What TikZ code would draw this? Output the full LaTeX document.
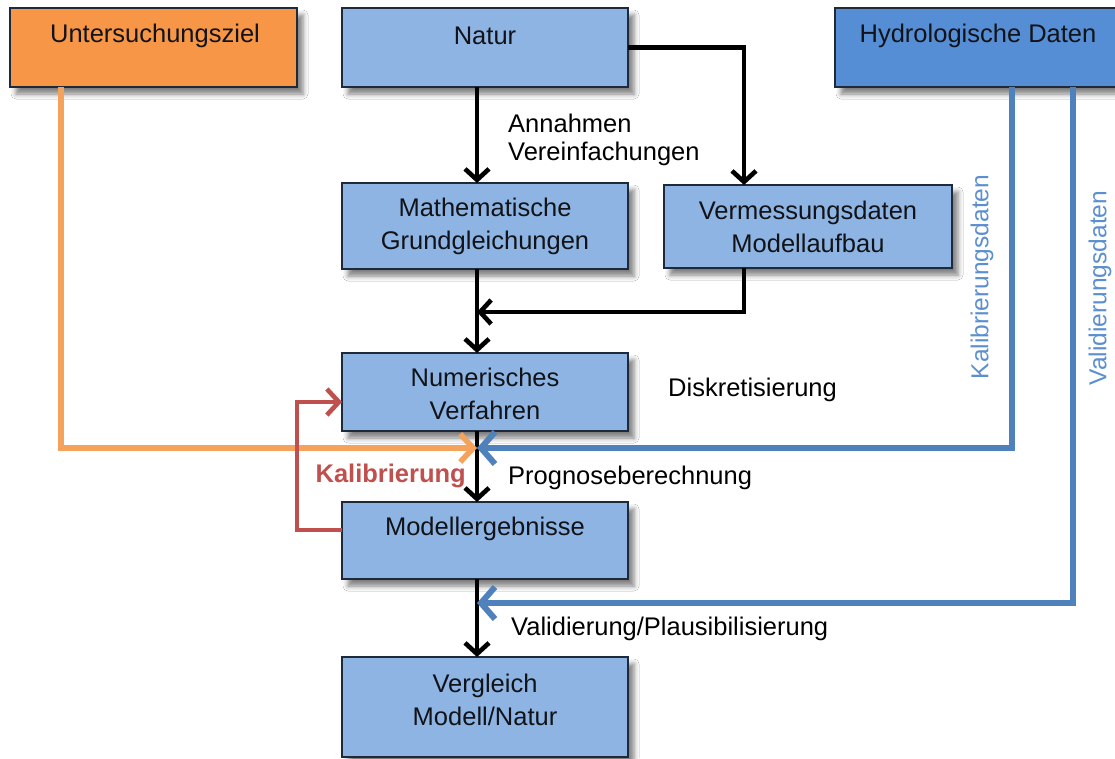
\documentclass[tikz,border=0pt]{standalone}
\usepackage{fontspec}
\setmainfont{Liberation Sans}
\usetikzlibrary{arrows.meta,shadows.blur}
\definecolor{boxblue}{HTML}{8DB4E2}
\definecolor{hydroblue}{HTML}{558ED5}
\definecolor{boxorange}{HTML}{F79646}
\definecolor{lineorange}{HTML}{F5A25C}
\definecolor{lineblue}{HTML}{4F81BD}
\definecolor{textblue}{HTML}{5B8FD0}
\definecolor{linered}{HTML}{C0504D}
\definecolor{border}{HTML}{1E2A3A}
\definecolor{txt}{HTML}{111318}
\begin{document}
\begin{tikzpicture}[x=1pt,y=-1pt,
  box/.style={draw=border,line width=1.5pt,inner sep=0pt,outer sep=0pt,
    blur shadow={shadow xshift=6pt,shadow yshift=-7pt,shadow blur radius=5pt,shadow opacity=50}},
  bluebox/.style={box,fill=boxblue},
  lbl/.style={font=\fontsize{25.5}{33}\selectfont,text=txt,align=center,inner sep=0pt},
  note/.style={font=\fontsize{25.5}{28}\selectfont,text=black,align=left,inner sep=0pt},
  blk/.style={draw=black,line width=4.6pt,-{Straight Barb[length=11pt,width=24pt]}},
  orangearrow/.style={draw=lineorange,line width=5.5pt,-{Straight Barb[length=13pt,width=28pt]}},
  bluearrow/.style={draw=lineblue,line width=6pt,-{Straight Barb[length=14pt,width=32pt]}},
  redarrow/.style={draw=linered,line width=4.6pt,-{Straight Barb[length=12pt,width=26pt]}}]
\useasboundingbox (0,0) rectangle (1115,758);
\fill[white] (0,0) rectangle (1115,758);

% boxes
\node[box,fill=boxorange,minimum width=287pt,minimum height=79pt] (ziel) at (153.5,47.5) {};
\node[bluebox,minimum width=286pt,minimum height=79pt] (natur) at (485,47.5) {};
\node[box,fill=hydroblue,minimum width=295pt,minimum height=79pt] (hydro) at (982.5,47.5) {};
\node[bluebox,minimum width=286pt,minimum height=86pt] (math) at (485,226) {};
\node[bluebox,minimum width=288pt,minimum height=83pt] (verm) at (808,226.5) {};
\node[bluebox,minimum width=286pt,minimum height=78pt] (num) at (485,392) {};
\node[bluebox,minimum width=286pt,minimum height=77pt] (mod) at (485,540.5) {};
\node[bluebox,minimum width=286pt,minimum height=100pt] (verg) at (485,707) {};

% box texts
\node[lbl] (zielT) at (155,36) {Untersuchungsziel};
\node[lbl] (naturT) at (485,36) {Natur};
\node[lbl] (hydroT) at (978,36) {Hydrologische Daten};
\node[lbl] (mathT) at (485,226) {Mathematische\\Grundgleichungen};
\node[lbl] (vermT) at (808,227) {Vermessungsdaten\\Modellaufbau};
\node[lbl] (numT) at (485,394) {Numerisches\\Verfahren};
\node[lbl] (modT) at (485,529) {Modellergebnisse};
\node[lbl] (vergT) at (485,700) {Vergleich\\Modell/Natur};

% helper coordinates
\coordinate (cx) at (477,0);
\coordinate (vx) at (744,0);
\coordinate (j1) at (477,312);
\coordinate (j2) at (477,448);
\coordinate (j3) at (477,603);
\coordinate (ox) at (61,0);
\coordinate (kx) at (1012,0);
\coordinate (vdx) at (1073,0);
\coordinate (rl) at (297,466);
\coordinate (ry1) at (0,530);
\coordinate (ry2) at (0,402);

% black connectors
\draw[blk] (natur.south -| cx) -- (math.north -| cx);
\draw[blk] (natur.east) -| (verm.north -| vx);
\draw[blk] (math.south -| cx) -- (num.north -| cx);
\draw[blk] (verm.south -| vx) |- (j1);
\draw[blk] (num.south -| cx) -- (mod.north -| cx);
\draw[blk] (mod.south -| cx) -- (verg.north -| cx);

% coloured connectors
\draw[orangearrow] (ziel.south -| ox) |- (j2);
\draw[bluearrow] (hydro.south -| kx) |- (j2);
\draw[bluearrow] (hydro.south -| vdx) |- (j3);
\draw[redarrow] (mod.west |- ry1) -| (rl) |- (num.west |- ry2);

% annotations
\node[note,anchor=west] (annT) at (508,140) {Annahmen\\Vereinfachungen};
\node[note,anchor=west] (diskT) at (668,390) {Diskretisierung};
\node[note,anchor=west] (progT) at (508,478) {Prognoseberechnung};
\node[note,anchor=east,text=linered,font=\fontsize{25.5}{28}\selectfont\bfseries] (kalT) at (466,476) {Kalibrierung};
\node[note,anchor=west] (valT) at (511,629) {Validierung/Plausibilisierung};
\node[note,text=textblue,font=\fontsize{24.5}{28}\selectfont,rotate=90] (kdT) at (982,277) {Kalibrierungsdaten};
\node[note,text=textblue,font=\fontsize{24.5}{28}\selectfont,rotate=90] (vdT) at (1100,288) {Validierungsdaten};
\end{tikzpicture}
\end{document}
